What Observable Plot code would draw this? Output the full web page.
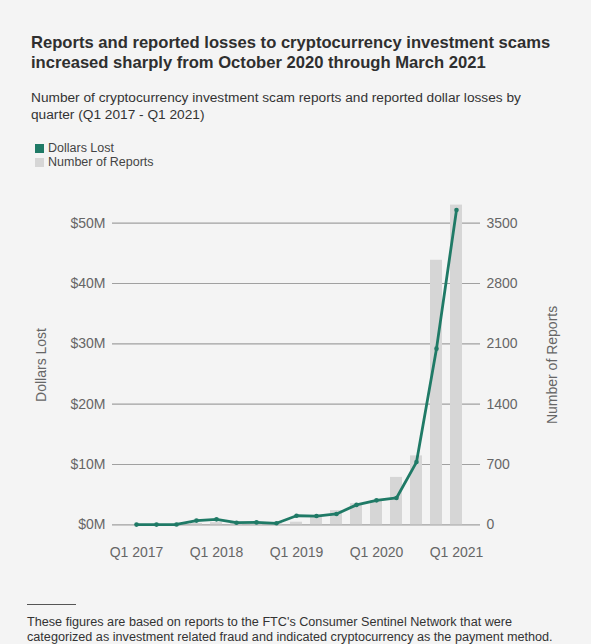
<!DOCTYPE html>
<html>
<head>
<meta charset="utf-8">
<script src="https://cdn.jsdelivr.net/npm/d3@7"></script>
<script src="https://cdn.jsdelivr.net/npm/@observablehq/plot@0.6"></script>
<style>
  html, body { margin: 0; padding: 0; background: #f4f4f4; }
  body { width: 591px; height: 644px; position: relative; overflow: hidden; font-family: "Liberation Sans", Arial, sans-serif; }
  #title { position: absolute; left: 31px; top: 33px; font-size: 16.6px; font-weight: bold; line-height: 20px; color: #2f2f2f; white-space: nowrap; }
  #subtitle { position: absolute; left: 31px; top: 89px; font-size: 13.7px; line-height: 17px; color: #333; white-space: nowrap; }
  #legend { position: absolute; left: 35px; top: 141px; font-size: 12.5px; line-height: 14px; color: #444; }
  #legend .row { display: flex; align-items: center; height: 14px; }
  #legend .sw { width: 9px; height: 9px; margin-right: 4px; display: inline-block; }
  #chart { position: absolute; left: 0; top: 185px; }
  #rule { position: absolute; left: 27px; top: 604px; width: 49px; border-top: 1px solid #555; }
  #footer { position: absolute; left: 27px; top: 615px; font-size: 12.65px; line-height: 14.5px; color: #333; white-space: nowrap; }
</style>
</head>
<body>
<div id="title">Reports and reported losses to cryptocurrency investment scams<br>increased sharply from October 2020 through March 2021</div>
<div id="subtitle">Number of cryptocurrency investment scam reports and reported dollar losses by<br>quarter (Q1 2017 - Q1 2021)</div>
<div id="legend">
  <div class="row"><span class="sw" style="background:#1f7a66"></span>Dollars Lost</div>
  <div class="row"><span class="sw" style="background:#d6d6d6"></span>Number of Reports</div>
</div>
<div id="chart"></div>
<div id="rule"></div>
<div id="footer">These figures are based on reports to the FTC's Consumer Sentinel Network that were<br>categorized as investment related fraud and indicated cryptocurrency as the payment method.</div>
<script>
const quarters = ["Q1 2017","Q2 2017","Q3 2017","Q4 2017","Q1 2018","Q2 2018","Q3 2018","Q4 2018","Q1 2019","Q2 2019","Q3 2019","Q4 2019","Q1 2020","Q2 2020","Q3 2020","Q4 2020","Q1 2021"];
const dollarsLostM = [0.03, 0.03, 0.05, 0.7, 0.9, 0.35, 0.4, 0.25, 1.5, 1.45, 1.8, 3.3, 4.05, 4.45, 10.4, 29.2, 52.2];
const reports = [2, 3, 5, 15, 25, 20, 20, 12, 30, 85, 165, 245, 280, 550, 800, 3070, 3710];
const dollarTicksM = [0, 10, 20, 30, 40, 50];
const reportTicks = [0, 700, 1400, 2100, 2800, 3500];
const xTickLabels = ["Q1 2017", "Q1 2018", "Q1 2019", "Q1 2020", "Q1 2021"];

const k = 50e6 / 3500;
const data = quarters.map((q, i) => ({q, dollars: dollarsLostM[i] * 1e6, reports: reports[i]}));
const dollarTicks = dollarTicksM.map(d => d * 1e6);
const teal = "#1f7a66";

const chart = Plot.plot({
  width: 591,
  height: 385,
  marginTop: 19.6,
  marginBottom: 45.7,
  marginLeft: 112,
  marginRight: 111,
  style: {background: "transparent", fontFamily: "'Liberation Sans', Arial, sans-serif", fontSize: "14px", color: "#666", overflow: "visible"},
  x: {type: "band", domain: quarters, paddingInner: 0.409, paddingOuter: 0.764, align: 0.5},
  y: {domain: [0, 53e6]},
  marks: [
    Plot.gridY({ticks: dollarTicks, stroke: "#a0a0a0", strokeOpacity: 1, strokeWidth: 1.2}),
    Plot.barY(data, {x: "q", y: d => d.reports * k, fill: "#d6d6d6"}),
    Plot.line(data, {x: "q", y: "dollars", stroke: teal, strokeWidth: 2.8}),
    Plot.dot(data, {x: "q", y: "dollars", fill: teal, r: 2.3}),
    Plot.axisY({ticks: dollarTicks, tickFormat: d => `$${d / 1e6}M`, tickSize: 0, tickPadding: 7, label: "Dollars Lost", labelArrow: "none", labelAnchor: "center", labelOffset: 76}),
    Plot.axisY({anchor: "right", ticks: reportTicks.map(t => t * k), tickFormat: d => String(Math.round(d / k)), tickSize: 0, tickPadding: 6, label: "Number of Reports", labelArrow: "none", labelAnchor: "center", labelOffset: 76}),
    Plot.axisX({ticks: xTickLabels, tickSize: 0, tickPadding: 22, label: null})
  ]
});
document.getElementById("chart").appendChild(chart);
</script>
</body>
</html>
